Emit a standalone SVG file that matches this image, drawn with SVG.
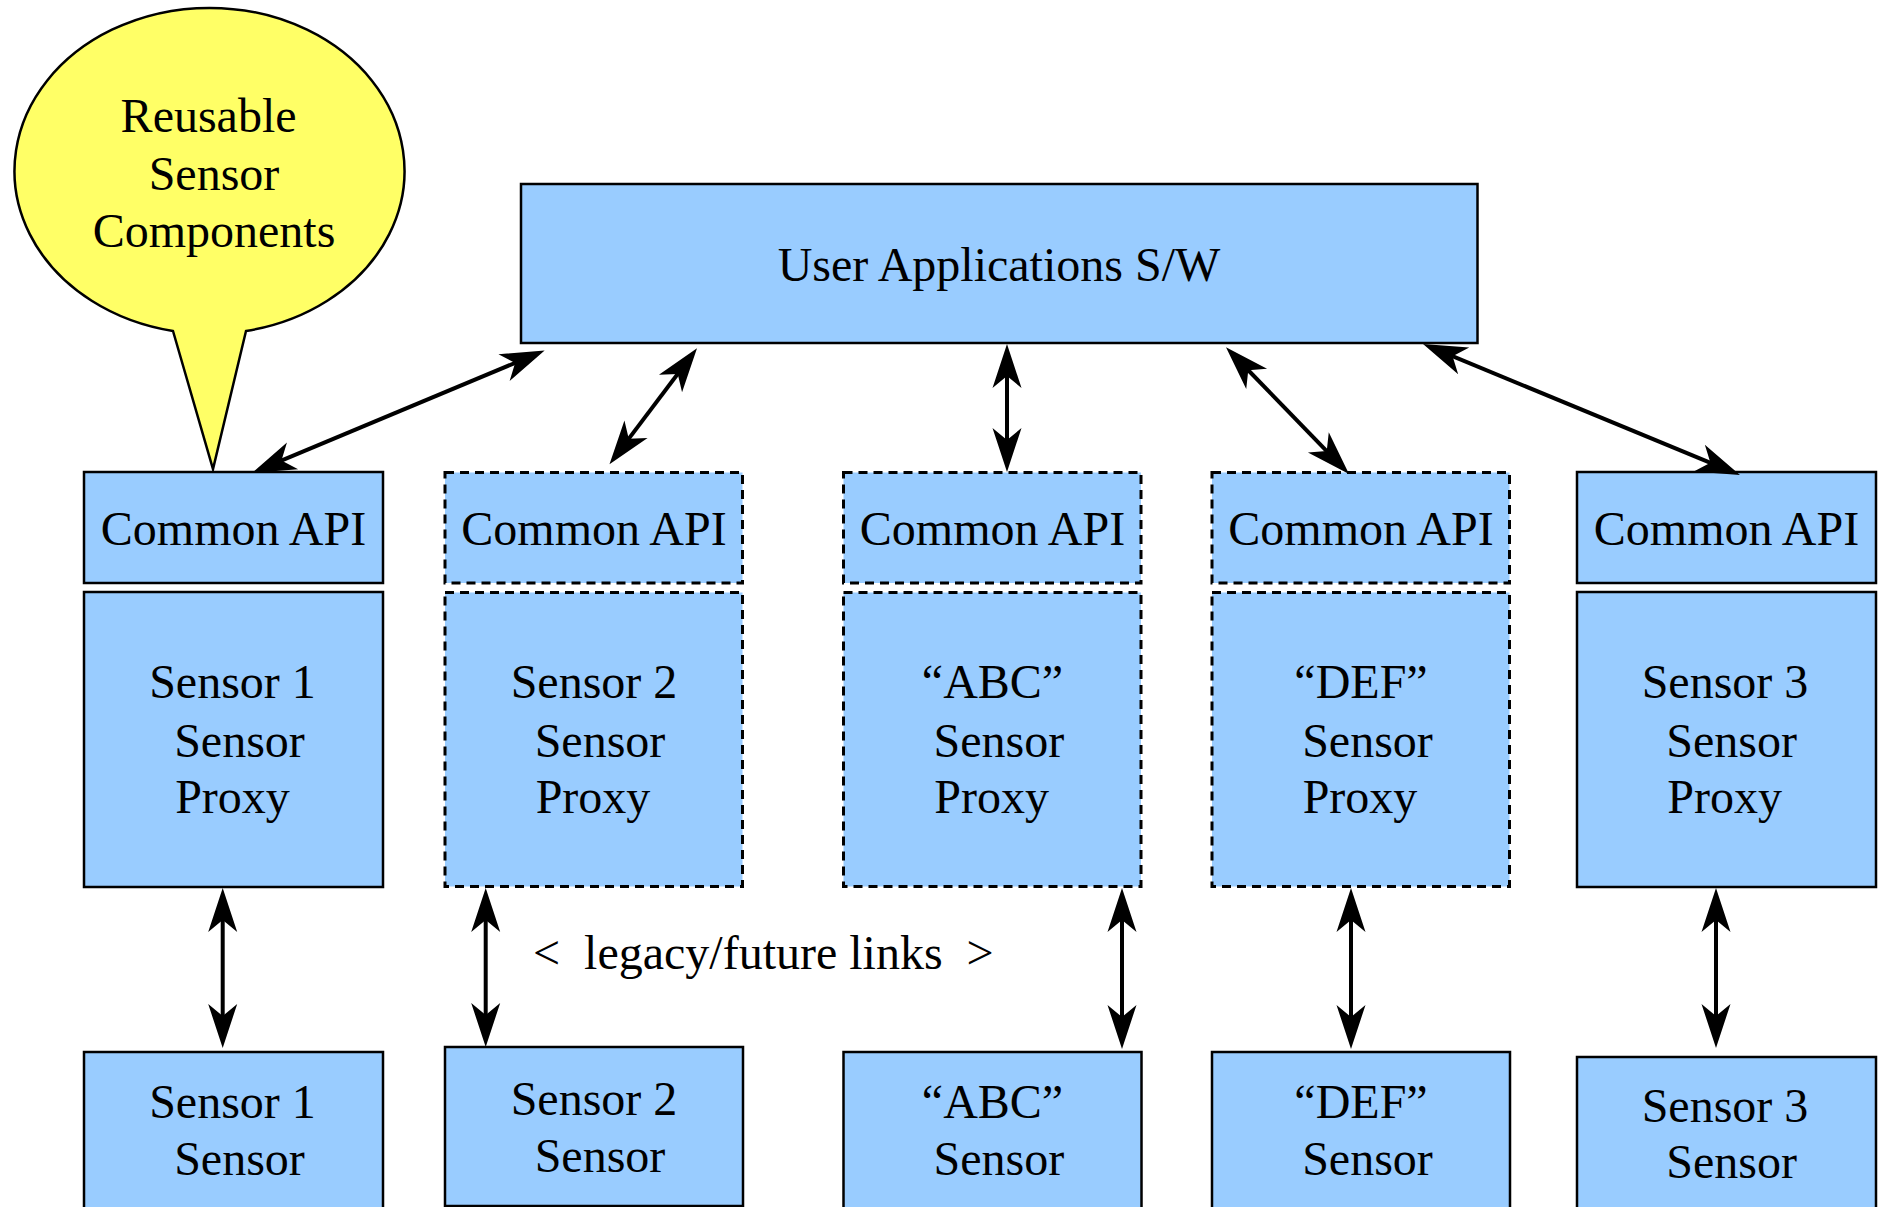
<svg xmlns="http://www.w3.org/2000/svg" width="1885" height="1207" viewBox="0 0 1885 1207">
<style>
  text { font-family: "Liberation Serif", "Times New Roman", serif; font-size: 48px; fill: #000; text-anchor: middle; }
  .box { fill: #99ccff; stroke: #000; stroke-width: 2.5; }
  .dash { fill: #99ccff; stroke: #000; stroke-width: 3; stroke-dasharray: 9 6; }
  .bubble { fill: #ffff66; stroke: #000; stroke-width: 2.5; stroke-linejoin: miter; }
  .link { fill: none; stroke: #000; stroke-width: 4; marker-start: url(#ah); marker-end: url(#ah); }
</style>
<defs>
  <marker id="ah" viewBox="-46 -16 48 32" markerWidth="48" markerHeight="32" refX="-24" refY="0" orient="auto-start-reverse" markerUnits="userSpaceOnUse" overflow="visible">
    <path d="M0,0 L-44,-14.5 L-32,0 L-44,14.5 Z" fill="#000"/>
  </marker>
</defs>
<rect width="1885" height="1207" fill="#fff"/>

<g id="callout">
  <path class="bubble" d="M173,331 A195,163 0 1,1 246,331 L213,469 Z"/>
  <text x="208.6" y="131.7">Reusable</text>
  <text x="214" y="190">Sensor</text>
  <text x="214" y="246.7">Components</text>
</g>

<g id="user-apps">
  <rect class="box" x="521" y="184" width="956.5" height="159"/>
  <text x="999" y="281">User Applications S/W</text>
</g>

<g id="api1"><rect class="box" x="84" y="472" width="299" height="111"/><text x="233.5" y="545">Common API</text></g>
<g id="api2"><rect class="dash" x="445" y="472.5" width="297.5" height="110.5"/><text x="594" y="545">Common API</text></g>
<g id="api3"><rect class="dash" x="843.5" y="472.5" width="297.5" height="110.5"/><text x="992.5" y="545">Common API</text></g>
<g id="api4"><rect class="dash" x="1212" y="472.5" width="297.5" height="110.5"/><text x="1361" y="545">Common API</text></g>
<g id="api5"><rect class="box" x="1577" y="472" width="299" height="111"/><text x="1726.5" y="545">Common API</text></g>

<g id="proxy1"><rect class="box" x="84" y="592" width="299" height="295"/>
  <text x="232.5" y="698.3">Sensor 1</text><text x="239.5" y="756.7">Sensor</text><text x="232.5" y="813.3">Proxy</text></g>
<g id="proxy2"><rect class="dash" x="445" y="592.5" width="297.5" height="294"/>
  <text x="594" y="698.3">Sensor 2</text><text x="600" y="756.7">Sensor</text><text x="593" y="813.3">Proxy</text></g>
<g id="proxy3"><rect class="dash" x="843.5" y="592.5" width="297.5" height="294"/>
  <text x="992.5" y="698.3">“ABC”</text><text x="998.8" y="756.7">Sensor</text><text x="991.6" y="813.3">Proxy</text></g>
<g id="proxy4"><rect class="dash" x="1212" y="592.5" width="297.5" height="294"/>
  <text x="1361" y="698.3">“DEF”</text><text x="1367.5" y="756.7">Sensor</text><text x="1360" y="813.3">Proxy</text></g>
<g id="proxy5"><rect class="box" x="1577" y="592" width="299" height="295"/>
  <text x="1725" y="698.3">Sensor 3</text><text x="1731.7" y="756.7">Sensor</text><text x="1724.7" y="813.3">Proxy</text></g>

<g id="sensor1"><rect class="box" x="84" y="1052" width="299" height="170"/>
  <text x="232.5" y="1118">Sensor 1</text><text x="239.5" y="1175">Sensor</text></g>
<g id="sensor2"><rect class="box" x="445" y="1047" width="298" height="159"/>
  <text x="594" y="1115">Sensor 2</text><text x="600" y="1172">Sensor</text></g>
<g id="sensor-abc"><rect class="box" x="843.5" y="1052" width="298" height="170"/>
  <text x="992.5" y="1118">“ABC”</text><text x="998.8" y="1175">Sensor</text></g>
<g id="sensor-def"><rect class="box" x="1212" y="1052" width="298" height="170"/>
  <text x="1361" y="1118">“DEF”</text><text x="1367.5" y="1175">Sensor</text></g>
<g id="sensor3"><rect class="box" x="1577" y="1057" width="299" height="170"/>
  <text x="1725" y="1122">Sensor 3</text><text x="1731.7" y="1178">Sensor</text></g>

<g id="connectors">
  <path class="link" d="M274.1,463.7 L522.5,359.8"/>
  <path class="link" d="M623.95,445.1 L682.55,367.5"/>
  <path class="link" d="M1007,448 L1007,368"/>
  <path class="link" d="M1332.3,456.8 L1242.7,364.5"/>
  <path class="link" d="M1717.8,465.8 L1445.2,353.2"/>
  <path class="link" d="M222.7,912 L222.7,1024"/>
  <path class="link" d="M485.7,912 L485.7,1023"/>
  <path class="link" d="M1122,912 L1122,1025"/>
  <path class="link" d="M1351,912 L1351,1025"/>
  <path class="link" d="M1716,912 L1716,1024"/>
</g>

<g id="legacy-label">
  <text x="533" y="969" xml:space="preserve" style="text-anchor:start; white-space:pre">&lt;  legacy/future links  &gt;</text>
</g>
</svg>
